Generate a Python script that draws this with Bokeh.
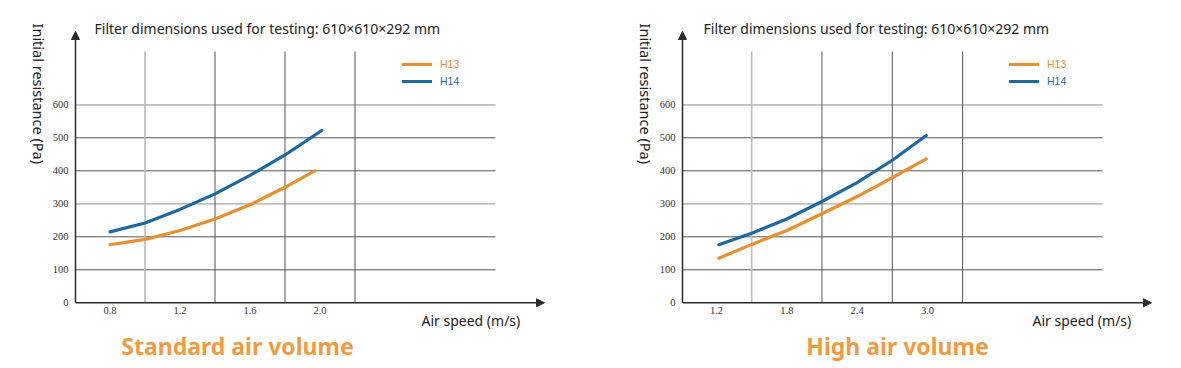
import math
from bokeh.plotting import figure
from bokeh.layouts import row
from bokeh.models import (Range1d, FixedTicker, Label, Legend, LegendItem,
                          Arrow, NormalHead)
from bokeh.embed import file_html
from bokeh.resources import INLINE

# ---------------- data ----------------
std_speed_h13 = [0.8, 1.0, 1.2, 1.4, 1.6, 1.8, 1.97]
std_res_h13 = [176, 192, 219, 254, 297, 350, 400]
std_speed_h14 = [0.8, 1.0, 1.2, 1.4, 1.6, 1.8, 2.01]
std_res_h14 = [215, 242, 283, 330, 386, 448, 522]

high_speed_h13 = [1.22, 1.5, 1.8, 2.1, 2.4, 2.7, 2.99]
high_res_h13 = [135, 177, 219, 270, 322, 379, 436]
high_speed_h14 = [1.22, 1.5, 1.8, 2.1, 2.4, 2.7, 2.99]
high_res_h14 = [176, 211, 254, 307, 364, 432, 507]

std_xticks = [0.8, 1.2, 1.6, 2.0]
high_xticks = [1.2, 1.8, 2.4, 3.0]
std_xgrid = [1.0, 1.4, 1.8, 2.2]
high_xgrid = [1.5, 2.1, 2.7, 3.3]
y_ticks = [0, 100, 200, 300, 400, 500, 600]
light_ygrid = [300, 600]

series_names = ["H13", "H14"]
title_text = "Filter dimensions used for testing: 610×610×292 mm"
y_title = "Initial resistance (Pa)"
x_title = "Air speed (m/s)"
panel_titles = ["Standard air volume", "High air volume"]

ORANGE = "#E98F2E"
BLUE = "#1B69A3"
SUB = "#F29A40"
DARK = "#555555"
LIGHT = "#BEBEBE"
AXIS = "#2B2B2B"
TXT = "#222222"

# page geometry
FIG_H = 366
Y0_PAGE = 302.3
YPPU = 0.33


def make_panel(xticks, xgrid, h13x, h13y, h14x, h14y, sub_title,
               fig_left, fig_w, axis_page, tick0_page, ppu,
               sub_center, title_left, xlabel_left):
    x0 = xticks[0]

    def px(page):
        return x0 + (page - tick0_page) / ppu

    def py(page):
        return (Y0_PAGE - page) / YPPU

    xr = Range1d(px(fig_left), px(fig_left + fig_w))
    yr = Range1d(py(FIG_H), py(0))

    p = figure(frame_width=fig_w, frame_height=FIG_H,
               min_border_left=0, min_border_right=0,
               min_border_top=0, min_border_bottom=0,
               x_range=xr, y_range=yr, output_backend="svg",
               toolbar_location=None, outline_line_color=None)
    p.xgrid.visible = False
    p.ygrid.visible = False

    axis_x = px(axis_page)

    # axes (labels only), fixed inside the frame
    p.xaxis.ticker = FixedTicker(ticks=xticks)
    p.xaxis.major_label_overrides = {v: f"{v:.1f}" for v in xticks}
    p.yaxis.ticker = FixedTicker(ticks=y_ticks)
    p.xaxis.fixed_location = 0
    p.yaxis.fixed_location = axis_x
    for ax in (p.xaxis[0], p.yaxis[0]):
        ax.axis_line_color = None
        ax.major_tick_line_color = None
        ax.minor_tick_line_color = None
        ax.major_tick_out = 0
        ax.major_tick_in = 0
        ax.minor_tick_out = 0
        ax.major_label_text_font = "Liberation Serif"
        ax.major_label_text_font_size = "10.5px"
        ax.major_label_text_color = "#333333"
    p.xaxis.major_label_standoff = 4
    p.yaxis.major_label_standoff = 7

    grid_end = px(axis_page + 420)
    vtop = py(51)

    # horizontal grid
    hy = [v for v in y_ticks if v > 0]
    hcol = [LIGHT if v in light_ygrid else DARK for v in hy]
    hw = [1.7 if v in light_ygrid else 1.0 for v in hy]
    p.segment(x0=[axis_x] * len(hy), y0=hy, x1=[grid_end] * len(hy), y1=hy,
              line_color=hcol, line_width=hw)
    # vertical grid
    vcol = [LIGHT] + [DARK] * (len(xgrid) - 1)
    vw = [1.7] + [1.0] * (len(xgrid) - 1)
    p.segment(x0=xgrid, y0=[0] * len(xgrid), x1=xgrid, y1=[vtop] * len(xgrid),
              line_color=vcol, line_width=vw)

    r13 = p.line(h13x, h13y, line_color=ORANGE, line_width=3.2,
                 line_cap="round", line_join="round")
    r14 = p.line(h14x, h14y, line_color=BLUE, line_width=3.2,
                 line_cap="round", line_join="round")

    # axis arrows
    p.add_layout(Arrow(end=NormalHead(size=8, fill_color=AXIS, line_color=AXIS),
                       x_start=axis_x, y_start=0, x_end=px(axis_page + 469), y_end=0,
                       line_color=AXIS, line_width=1.5))
    p.add_layout(Arrow(end=NormalHead(size=8, fill_color=AXIS, line_color=AXIS),
                       x_start=axis_x, y_start=0, x_end=axis_x, y_end=py(31),
                       line_color=AXIS, line_width=1.5))

    # legends (one per series so each label keeps its own colour)
    for r, name, col, cy in ((r13, series_names[0], ORANGE, 64.3),
                             (r14, series_names[1], BLUE, 81.0)):
        leg = Legend(items=[LegendItem(label=name, renderers=[r])],
                     location=(axis_page + 327 - fig_left, FIG_H - (cy + 6)),
                     border_line_color=None, background_fill_alpha=0,
                     padding=0, margin=0, spacing=0,
                     glyph_width=30, glyph_height=12, label_height=12,
                     label_standoff=8, label_text_font="Liberation Sans",
                     label_text_font_size="10.5px", label_text_color=col)
        p.add_layout(leg)

    # texts
    p.add_layout(Label(x=px(title_left), y=py(28), text=title_text,
                       text_font="Noto Sans", text_font_size="14px",
                       text_color=TXT, text_baseline="middle", text_align="left"))
    p.add_layout(Label(x=px(axis_page - 37), y=py(23), text=y_title,
                       angle=-90, angle_units="deg",
                       text_font="Noto Sans", text_font_size="14.5px",
                       text_color=TXT, text_baseline="middle", text_align="left"))
    p.add_layout(Label(x=px(xlabel_left), y=py(320), text=x_title,
                       text_font="Noto Sans", text_font_size="14px",
                       text_color=TXT, text_baseline="middle", text_align="left"))
    p.add_layout(Label(x=px(sub_center), y=py(345), text=sub_title,
                       text_font="Noto Sans", text_font_size="23px",
                       text_font_style="bold",
                       text_color=SUB, text_baseline="middle", text_align="center"))
    return p


p1 = make_panel(std_xticks, std_xgrid, std_speed_h13, std_res_h13,
                std_speed_h14, std_res_h14, panel_titles[0],
                fig_left=0, fig_w=600, axis_page=75, tick0_page=109.5, ppu=175.0,
                sub_center=237, title_left=94, xlabel_left=421)
p2 = make_panel(high_xticks, high_xgrid, high_speed_h13, high_res_h13,
                high_speed_h14, high_res_h14, panel_titles[1],
                fig_left=600, fig_w=575, axis_page=682, tick0_page=716, ppu=117.2,
                sub_center=897, title_left=703, xlabel_left=1032)

layout = row(p1, p2)
open("out.html", "w").write(file_html(layout, INLINE))
